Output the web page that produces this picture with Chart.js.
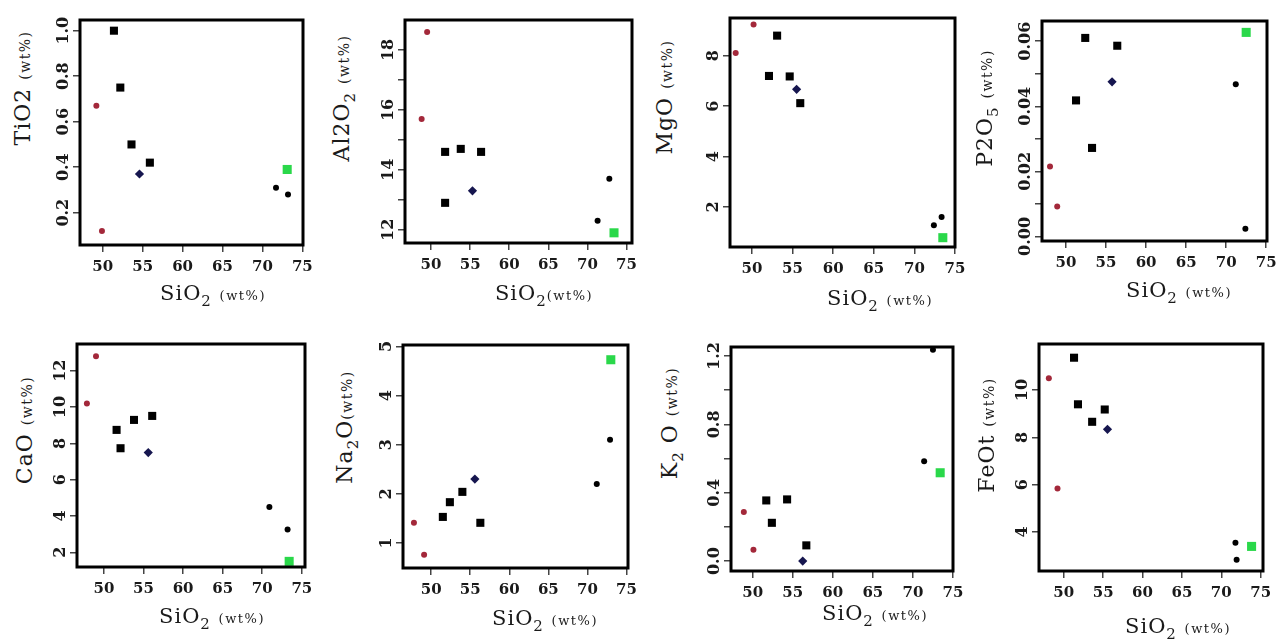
<!DOCTYPE html>
<html><head><meta charset="utf-8">
<script src="https://cdn.jsdelivr.net/npm/chart.js@4.4.0/dist/chart.umd.min.js"></script>
<style>
html,body{margin:0;padding:0;background:#fff;}
#wrap{position:relative;width:1282px;height:641px;overflow:hidden;font-family:"DejaVu Serif",serif;color:#1a1a1a;}
canvas{position:absolute;}
.t{position:absolute;white-space:nowrap;transform:translate(-50%,-50%);font-size:21px;line-height:1;letter-spacing:1px;}
.t.v{transform:translate(-50%,-50%) rotate(-90deg);font-size:22px;}
.t small{font-size:13px;letter-spacing:1.5px;}
.t.v small{font-size:14px;}
.t sub{font-size:15px;vertical-align:-6px;line-height:0;}
</style></head><body><div id="wrap"></div>
<script>
// ---------- DATA ----------
const xTicks = [50, 55, 60, 65, 70, 75];
const xTickLabels = ['50', '55', '60', '65', '70', '75'];

// TiO2
const tio2Red = [[49.2, 0.67], [49.9, 0.12]];
const tio2Sq = [[51.4, 1.0], [52.2, 0.75], [53.6, 0.50], [55.9, 0.42]];
const tio2Star = [[54.6, 0.37]];
const tio2Dot = [[71.7, 0.31], [73.2, 0.28]];
const tio2Green = [[73.1, 0.39]];
const tio2Ticks = [0.2, 0.4, 0.6, 0.8, 1.0];
const tio2Labels = ['0.2', '0.4', '0.6', '0.8', '1.0'];

// Al2O3
const al2o3Red = [[49.5, 18.6], [48.8, 15.7]];
const al2o3Sq = [[51.8, 14.6], [53.8, 14.7], [56.4, 14.6], [51.8, 12.9]];
const al2o3Star = [[55.3, 13.3]];
const al2o3Dot = [[71.3, 12.3], [72.8, 13.7]];
const al2o3Green = [[73.4, 11.9]];
const al2o3Ticks = [12, 13, 14, 15, 16, 17, 18];
const al2o3Labels = ['12', '', '14', '', '16', '', '18'];

// MgO
const mgoRed = [[50.2, 9.24], [48.0, 8.11]];
const mgoSq = [[53.1, 8.8], [52.1, 7.2], [54.65, 7.18], [55.95, 6.12]];
const mgoStar = [[55.5, 6.67]];
const mgoDot = [[73.35, 1.6], [72.4, 1.27]];
const mgoGreen = [[73.5, 0.78]];
const mgoTicks = [2, 4, 6, 8];
const mgoLabels = ['2', '4', '6', '8'];

// P2O5
const p2o5Red = [[48.0, 0.0215], [48.9, 0.0092]];
const p2o5Sq = [[52.4, 0.061], [56.4, 0.0586], [51.25, 0.0418], [53.25, 0.0272]];
const p2o5Star = [[55.75, 0.0475]];
const p2o5Dot = [[71.2, 0.0468], [72.4, 0.0024]];
const p2o5Green = [[72.5, 0.0627]];
const p2o5Ticks = [0, 0.01, 0.02, 0.03, 0.04, 0.05, 0.06];
const p2o5Labels = ['0.00', '', '0.02', '', '0.04', '', '0.06'];

// CaO
const caoRed = [[49.0, 12.8], [47.85, 10.2]];
const caoSq = [[51.6, 8.74], [52.1, 7.73], [53.8, 9.29], [56.1, 9.51]];
const caoStar = [[55.6, 7.49]];
const caoDot = [[70.9, 4.49], [73.2, 3.25]];
const caoGreen = [[73.4, 1.5]];
const caoTicks = [2, 4, 6, 8, 10, 12];
const caoLabels = ['2', '4', '6', '8', '10', '12'];

// Na2O
const na2oRed = [[47.8, 1.41], [49.1, 0.76]];
const na2oSq = [[51.5, 1.53], [52.4, 1.83], [54.0, 2.04], [56.3, 1.41]];
const na2oStar = [[55.6, 2.3]];
const na2oDot = [[71.2, 2.2], [72.9, 3.1]];
const na2oGreen = [[73.0, 4.73]];
const na2oTicks = [1, 2, 3, 4, 5];
const na2oLabels = ['1', '2', '3', '4', '5'];

// K2O
const k2oRed = [[48.9, 0.287], [50.1, 0.066]];
const k2oSq = [[51.7, 0.355], [52.4, 0.224], [54.3, 0.361], [56.7, 0.092]];
const k2oStar = [[56.25, 0.0]];
const k2oDot = [[71.4, 0.585], [72.5, 1.237]];
const k2oGreen = [[73.4, 0.517]];
const k2oTicks = [0, 0.2, 0.4, 0.6, 0.8, 1.0, 1.2];
const k2oLabels = ['0.0', '', '0.4', '', '0.8', '', '1.2'];

// FeOt
const feotRed = [[48.1, 10.5], [49.2, 5.84]];
const feotSq = [[51.3, 11.37], [51.8, 9.4], [53.6, 8.66], [55.2, 9.18]];
const feotStar = [[55.55, 8.34]];
const feotDot = [[71.8, 3.55], [71.95, 2.83]];
const feotGreen = [[73.85, 3.39]];
const feotTicks = [4, 6, 8, 10];
const feotLabels = ['4', '6', '8', '10'];

// ---------- LAYOUT ----------
const panels = [
  {box:[80,20,303,245], x:[47.15,75.08], y:[0.058,1.047], d:[tio2Red,tio2Sq,tio2Star,tio2Dot,tio2Green], yt:tio2Ticks, yl:tio2Labels,
   xt:{html:'SiO<sub>2</sub> <small>(wt%)</small>', c:[213,293]}, ytl:{html:'TiO2 <small>(wt%)</small>', c:[23,88]}},
  {box:[405,20,632,243], x:[46.67,75.7], y:[11.56,19.0], d:[al2o3Red,al2o3Sq,al2o3Star,al2o3Dot,al2o3Green], yt:al2o3Ticks, yl:al2o3Labels,
   xt:{html:'SiO<sub>2</sub><small>(wt%)</small>', c:[544,293]}, ytl:{html:'Al2O<sub>2</sub> <small>(wt%)</small>', c:[342,98]}},
  {box:[730,18,955,247], x:[47.3,75.0], y:[0.41,9.5], d:[mgoRed,mgoSq,mgoStar,mgoDot,mgoGreen], yt:mgoTicks, yl:mgoLabels,
   xt:{html:'SiO<sub>2</sub> <small>(wt%)</small>', c:[880,298]}, ytl:{html:'MgO <small>(wt%)</small>', c:[665,97]}},
  {box:[1042,21,1267,241], x:[47.0,75.1], y:[-0.0014,0.0662], d:[p2o5Red,p2o5Sq,p2o5Star,p2o5Dot,p2o5Green], yt:p2o5Ticks, yl:p2o5Labels,
   xt:{html:'SiO<sub>2</sub> <small>(wt%)</small>', c:[1179,290]}, ytl:{html:'P2O<sub>5</sub> <small>(wt%)</small>', c:[985,108]}},
  {box:[77,344,305,567], x:[46.6,75.4], y:[1.19,13.47], d:[caoRed,caoSq,caoStar,caoDot,caoGreen], yt:caoTicks, yl:caoLabels,
   xt:{html:'SiO<sub>2</sub> <small>(wt%)</small>', c:[212,616]}, ytl:{html:'CaO <small>(wt%)</small>', c:[25,430]}},
  {box:[403,345,628,568], x:[46.4,75.2], y:[0.49,5.03], d:[na2oRed,na2oSq,na2oStar,na2oDot,na2oGreen], yt:na2oTicks, yl:na2oLabels,
   xt:{html:'SiO<sub>2</sub> <small>(wt%)</small>', c:[545,618]}, ytl:{html:'Na<sub>2</sub>O<small>(wt%)</small>', c:[345,427]}},
  {box:[731,347,953,571], x:[47.3,75.0], y:[-0.058,1.253], d:[k2oRed,k2oSq,k2oStar,k2oDot,k2oGreen], yt:k2oTicks, yl:k2oLabels,
   xt:{html:'SiO<sub>2</sub> <small>(wt%)</small>', c:[875,613]}, ytl:{html:'K<sub>2</sub> O <small>(wt%)</small>', c:[670,423]}},
  {box:[1039,344,1263,571], x:[46.85,75.3], y:[2.35,11.95], d:[feotRed,feotSq,feotStar,feotDot,feotGreen], yt:feotTicks, yl:feotLabels,
   xt:{html:'SiO<sub>2</sub> <small>(wt%)</small>', c:[1178,626]}, ytl:{html:'FeOt <small>(wt%)</small>', c:[987,435]}}
];

const styles = [
  {pointStyle:'circle', radius:3, color:'#a3283a'},
  {pointStyle:'rect', radius:5.7, color:'#000000'},
  {pointStyle:'rectRot', radius:4.6, color:'#16164f'},
  {pointStyle:'circle', radius:3, color:'#000000'},
  {pointStyle:'rect', radius:6.4, color:'#2ad84a'}
];

const wrap = document.getElementById('wrap');
const FONT = '"DejaVu Serif", serif';

function addTitle(t, vertical){
  const d = document.createElement('div');
  d.className = 't' + (vertical ? ' v' : '');
  d.innerHTML = t.html;
  d.style.left = t.c[0] + 'px';
  d.style.top = t.c[1] + 'px';
  wrap.appendChild(d);
}

function makePanel(p){
  const YW = 40, PT = 8, PR = 20, XH = 44;
  const w = (p.box[2]-p.box[0]) + YW + PR;
  const h = (p.box[3]-p.box[1]) + PT + XH;
  const c = document.createElement('canvas');
  c.width = w; c.height = h;
  c.style.left = (p.box[0]-YW) + 'px';
  c.style.top = (p.box[1]-PT) + 'px';
  c.style.width = w + 'px'; c.style.height = h + 'px';
  wrap.appendChild(c);

  const datasets = p.d.map((pts, i) => ({
    data: pts.map(q => ({x:q[0], y:q[1]})),
    pointStyle: styles[i].pointStyle,
    pointRadius: styles[i].radius,
    backgroundColor: styles[i].color,
    borderColor: styles[i].color,
    borderWidth: 0,
    showLine: false
  }));

  const frame = {
    id: 'frame',
    afterDraw(chart){
      const ctx = chart.ctx, a = chart.chartArea, ys = chart.scales.y;
      ctx.save();
      ctx.fillStyle = '#1a1a1a';
      ctx.font = 'bold 16px ' + FONT;
      ctx.textAlign = 'center';
      ctx.textBaseline = 'alphabetic';
      ys.ticks.forEach((t, i) => {
        const lab = p.yl[i];
        if (!lab) return;
        const y = ys.getPixelForValue(t.value);
        ctx.save();
        ctx.translate(a.left - 12, y);
        ctx.rotate(-Math.PI/2);
        ctx.fillText(lab, 0, 0);
        ctx.restore();
      });
      ctx.lineWidth = 3;
      ctx.strokeStyle = '#000';
      ctx.strokeRect(a.left, a.top, a.right-a.left, a.bottom-a.top);
      ctx.restore();
    }
  };

  new Chart(c, {
    type: 'scatter',
    data: {datasets},
    options: {
      responsive: false,
      animation: false,
      devicePixelRatio: 1,
      layout: {padding:{top:PT, right:PR, left:0, bottom:0}, autoPadding:false},
      plugins: {legend:{display:false}, tooltip:{enabled:false}},
      scales: {
        x: {
          type:'linear', min:p.x[0], max:p.x[1],
          afterBuildTicks: s => { s.ticks = xTicks.map(v => ({value:v})); },
          afterFit: s => { s.height = XH; },
          grid: {drawOnChartArea:false, drawTicks:true, tickLength:7, color:'#444', lineWidth:1.5},
          border: {display:false},
          ticks: {font:{family:FONT, size:15, weight:'bold'}, color:'#1a1a1a', padding:6, maxRotation:0, minRotation:0,
                  callback: (v, i) => xTickLabels[i]}
        },
        y: {
          type:'linear', min:p.y[0], max:p.y[1],
          afterBuildTicks: s => { s.ticks = p.yt.map(v => ({value:v})); },
          afterFit: s => { s.width = YW; },
          grid: {drawOnChartArea:false, drawTicks:true, tickLength:7, color:'#444', lineWidth:1.5},
          border: {display:false},
          ticks: {display:false, callback: (v, i) => p.yl[i]}
        }
      }
    },
    plugins: [frame]
  });

  addTitle(p.xt, false);
  addTitle(p.ytl, true);
}

panels.forEach(makePanel);
</script>
</body></html>
